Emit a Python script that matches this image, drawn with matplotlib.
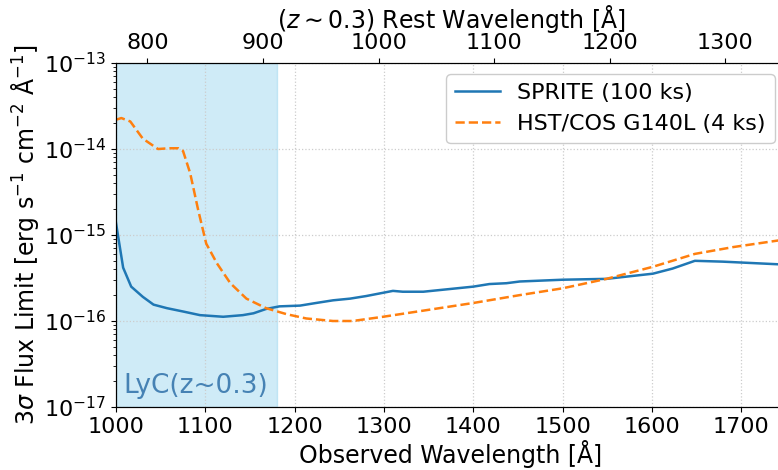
import matplotlib
matplotlib.use("Agg")
import matplotlib.pyplot as plt
import numpy as np

# SPRITE (100 ks) 3-sigma flux limit
sprite_wave = [1000, 1008, 1017, 1030, 1042, 1057, 1075, 1094, 1120, 1142, 1154, 1168,
               1183, 1206, 1224, 1243, 1262, 1280, 1295, 1310, 1321, 1344, 1400, 1418,
               1437, 1452, 1500, 1549, 1601, 1623, 1648, 1679, 1750]
sprite_flux = [1.38e-15, 4.17e-16, 2.51e-16, 1.91e-16, 1.55e-16, 1.41e-16, 1.29e-16,
               1.17e-16, 1.12e-16, 1.17e-16, 1.23e-16, 1.38e-16, 1.48e-16, 1.51e-16,
               1.62e-16, 1.74e-16, 1.82e-16, 1.95e-16, 2.09e-16, 2.24e-16, 2.19e-16,
               2.19e-16, 2.51e-16, 2.69e-16, 2.75e-16, 2.88e-16, 3.02e-16, 3.09e-16,
               3.55e-16, 4.07e-16, 5.01e-16, 4.90e-16, 4.52e-16]

# HST/COS G140L (4 ks)
cos_wave = [1000, 1006, 1016, 1030, 1047, 1060, 1070, 1075, 1083, 1092, 1101, 1113,
            1128, 1146, 1168, 1191, 1213, 1243, 1265, 1299, 1344, 1400, 1452, 1500,
            1549, 1601, 1648, 1691, 1750]
cos_flux = [2.19e-14, 2.29e-14, 2.09e-14, 1.32e-14, 1.00e-14, 1.02e-14, 1.02e-14,
            9.5e-15, 5.25e-15, 1.95e-15, 7.94e-16, 4.68e-16, 2.75e-16, 1.82e-16,
            1.41e-16, 1.20e-16, 1.07e-16, 1.00e-16, 1.00e-16, 1.12e-16, 1.32e-16,
            1.62e-16, 2.00e-16, 2.40e-16, 3.09e-16, 4.27e-16, 6.03e-16, 7.24e-16,
            8.9e-16]

z_factor = 1.294
lyc_edge = 1180
rest_ticks = [800, 900, 1000, 1100, 1200, 1300]
obs_ticks = [1000, 1100, 1200, 1300, 1400, 1500, 1600, 1700]

fig = plt.figure(figsize=(7.78, 4.70), dpi=100)
ax = fig.add_axes([116/778, 63/470, 670/778, 344/470])

ax.axvspan(1000, lyc_edge, color='skyblue', alpha=0.4, zorder=0)
ax.plot(sprite_wave, sprite_flux, color='#1f77b4', lw=1.8, label='SPRITE (100 ks)')
ax.plot(cos_wave, cos_flux, color='#ff7f0e', lw=1.8, ls='--', label='HST/COS G140L (4 ks)')

ax.set_yscale('log')
ax.set_xlim(1000, 1750)
ax.set_ylim(1e-17, 1e-13)
ax.set_xticks(obs_ticks)
ax.grid(True, which='major', ls=':', color='#cccccc', lw=0.9)
ax.tick_params(labelsize=16)
ax.set_xlabel('Observed Wavelength [Å]', fontsize=17, labelpad=2)
ax.set_ylabel(r'3$\sigma$ Flux Limit [erg s$^{-1}$ cm$^{-2}$ Å$^{-1}$]', fontsize=17, labelpad=2)

ax.text(1008, 1.45e-17, 'LyC(z~0.3)', color='#4682b4', fontsize=19, va='baseline', ha='left')

leg = ax.legend(loc='upper right', fontsize=16, framealpha=1.0)

top = ax.twiny()
top.set_xlim(ax.get_xlim())
top.set_xticks([r * z_factor for r in rest_ticks])
top.set_xticklabels([str(r) for r in rest_ticks])
top.tick_params(labelsize=16)
top.set_xlabel(r'($z\sim0.3$) Rest Wavelength [Å]', fontsize=17, labelpad=4)

fig.savefig('out.png', dpi=100)
